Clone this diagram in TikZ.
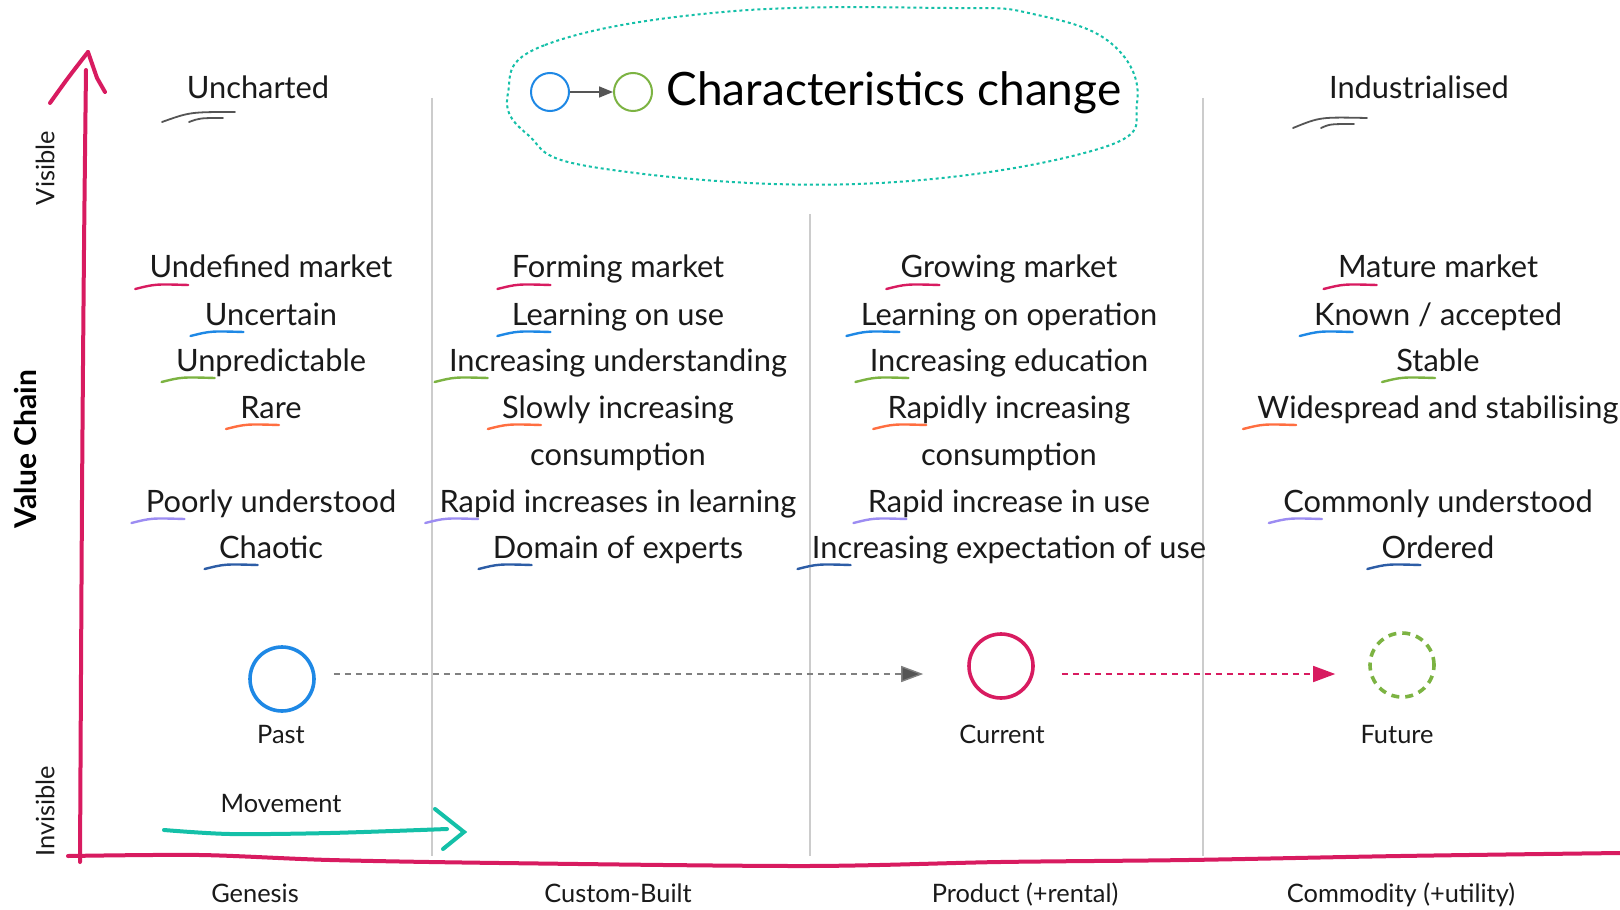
\documentclass[tikz,border=0pt]{standalone}
\usepackage{fontspec}
\setmainfont{Lato}
\usetikzlibrary{calc,arrows.meta}
\definecolor{wpink}{HTML}{D81B60}
\definecolor{wblue}{HTML}{1E88E5}
\definecolor{wgreen}{HTML}{7CB342}
\definecolor{worange}{HTML}{FF6E40}
\definecolor{wlav}{HTML}{9C8CF2}
\definecolor{wnavy}{HTML}{2D5DA6}
\definecolor{wteal}{HTML}{14C0A8}
\definecolor{wgray}{HTML}{555555}
\definecolor{wdiv}{HTML}{CCCCCC}
\definecolor{wtext}{HTML}{1A1A1A}
\tikzset{
  rowtxt/.style={anchor=base, inner sep=0pt, text=wtext, font=\fontsize{15.4}{18}\selectfont},
  headtxt/.style={anchor=base, inner sep=0pt, text=wtext, font=\fontsize{15.4}{18}\selectfont},
  smalltxt/.style={anchor=base, inner sep=0pt, text=wtext, font=\fontsize{12.7}{15}\selectfont},
  ulstroke/.style={line width=1.2pt, line cap=round},
  divider/.style={draw=wdiv, line width=0.7pt},
  axisline/.style={draw=wpink, line width=2pt, line cap=round, line join=round},
  squig/.style={draw=wgray, line width=0.9pt, line cap=round},
  stagecircle/.style={circle, minimum size=32pt, inner sep=0pt, line width=1.8pt},
  minicircle/.style={circle, minimum size=19pt, inner sep=0pt, line width=1pt},
}
\newcommand{\ritem}[5]{%
  \node[rowtxt] (#1) at (#2,#3) {#4};
  \draw[ulstroke, draw=#5] ($(#1.base west)+(-14,11)$) .. controls ($(#1.base west)+(6,6)$) .. ($(#1.base west)+(39,7)$);}
\newcommand{\rplain}[4]{\node[rowtxt] (#1) at (#2,#3) {#4};}
\begin{document}
\begin{tikzpicture}[x=0.5pt,y=-0.5pt]
\useasboundingbox (0,0) rectangle (1620,909);
\fill[white] (0,0) rectangle (1620,909);

% dividers
\draw[divider] (432,98) -- (432,856);
\draw[divider] (810,214) -- (810,856);
\draw[divider] (1203,98) -- (1203,856);

% axes
\draw[axisline] plot[smooth] coordinates {(80,862) (82,500) (84,250) (86,70)};
\draw[axisline] plot[smooth] coordinates {(50,103) (68,78) (88,52)};
\draw[axisline] (88,52) -- (97,78) -- (105,92);
\draw[axisline] plot[smooth] coordinates {(68,856) (200,855) (330,860) (500,863) (806,866) (1000,862) (1188,860) (1400,856) (1620,853)};

% axis labels
\node[smalltxt, anchor=center, rotate=90] (visible) at (45,168) {Visible};
\node[smalltxt, anchor=center, rotate=90] (invisible) at (45,811) {Invisible};
\node[anchor=center, rotate=90, inner sep=0pt, text=black, font=\fontsize{15}{18}\selectfont\bfseries] (vchain) at (25,449) {Value Chain};

% headers
\node[headtxt] (uncharted) at (258,99) {Uncharted};
\draw[squig] (162,122) .. controls (190,112) .. (235,112);
\draw[squig] (189,122) .. controls (200,118) .. (223,118);
\node[headtxt] (industrial) at (1419,99) {Industrialised};
\draw[squig] (1293,128) .. controls (1320,117) .. (1367,118);
\draw[squig] (1321,128) .. controls (1330,124) .. (1354,124);

% title bubble
\draw[wteal, line width=1pt, dash pattern=on 1.5pt off 1.5pt] plot[smooth cycle, tension=0.7] coordinates {(508,93) (545,45) (723,12) (950,8) (1033,14) (1112,44) (1137,103) (1095,150) (858,184) (599,168) (527,134)};
\node[minicircle, draw=wblue] (oldc) at (550,92) {};
\node[minicircle, draw=wgreen] (newc) at (633,92) {};
\draw[wgray, line width=0.8pt, -{Triangle[length=7pt,width=5.5pt]}] (oldc) -- (newc);
\node[anchor=base, inner sep=0pt, text=black, font=\fontsize{23}{27}\selectfont] (title) at (894,106) {Characteristics change};

% column 1
\ritem{a1}{271}{278}{Undefined market}{wpink}
\ritem{a2}{271}{325}{Uncertain}{wblue}
\ritem{a3}{271}{371}{Unpredictable}{wgreen}
\ritem{a4}{271}{418}{Rare}{worange}
\ritem{a6}{271}{512}{Poorly understood}{wlav}
\ritem{a7}{271}{558}{Chaotic}{wnavy}

% column 2
\ritem{b1}{618}{278}{Forming market}{wpink}
\ritem{b2}{618}{325}{Learning on use}{wblue}
\ritem{b3}{618}{371}{Increasing understanding}{wgreen}
\ritem{b4}{618}{418}{Slowly increasing}{worange}
\rplain{b5}{618}{465}{consumption}
\ritem{b6}{618}{512}{Rapid increases in learning}{wlav}
\ritem{b7}{618}{558}{Domain of experts}{wnavy}

% column 3
\ritem{c1}{1009}{278}{Growing market}{wpink}
\ritem{c2}{1009}{325}{Learning on operation}{wblue}
\ritem{c3}{1009}{371}{Increasing education}{wgreen}
\ritem{c4}{1009}{418}{Rapidly increasing}{worange}
\rplain{c5}{1009}{465}{consumption}
\ritem{c6}{1009}{512}{Rapid increase in use}{wlav}
\ritem{c7}{1009}{558}{Increasing expectation of use}{wnavy}

% column 4
\ritem{d1}{1438}{278}{Mature market}{wpink}
\ritem{d2}{1438}{325}{Known / accepted}{wblue}
\ritem{d3}{1438}{371}{Stable}{wgreen}
\ritem{d4}{1438}{418}{Widespread and stabilising}{worange}
\ritem{d6}{1438}{512}{Commonly understood}{wlav}
\ritem{d7}{1438}{558}{Ordered}{wnavy}

% stages
\node[stagecircle, draw=wblue] (past) at (282,679) {};
\node[stagecircle, draw=wpink] (current) at (1001,666) {};
\node[stagecircle, draw=wgreen, dash pattern=on 4pt off 3pt] (future) at (1402,665) {};
\node[smalltxt] (pastl) at (281,743) {Past};
\node[smalltxt] (currentl) at (1002,743) {Current};
\node[smalltxt] (futurel) at (1397,743) {Future};
\draw[draw=gray, line width=0.7pt, dash pattern=on 3pt off 2.5pt, -{Triangle[length=11pt,width=8pt,fill=wgray]}] ($(past.east)+(18,-5)$) -- ($(current.west)+(-44,8)$);
\draw[draw=wpink, line width=0.7pt, dash pattern=on 3pt off 2.5pt, -{Triangle[length=11pt,width=8pt]}] ($(current.east)+(27,8)$) -- ($(future.west)+(-33,9)$);

% movement
\node[smalltxt] (movel) at (281,812) {Movement};
\coordinate (mvs) at (164,830);
\coordinate (mve) at (447,829);
\draw[draw=wteal, line width=2pt, line cap=round] plot[smooth] coordinates {(mvs) (230,834) (330,833) (mve)};
\draw[draw=wteal, line width=2pt, line cap=round, line join=miter] (435,809) -- (464,832) -- (443,849);

% x axis labels
\node[smalltxt] (gen) at (255,902) {Genesis};
\node[smalltxt] (cust) at (618,902) {Custom-Built};
\node[smalltxt] (prod) at (1025,902) {Product (+rental)};
\node[smalltxt] (comm) at (1401,902) {Commodity (+utility)};
\end{tikzpicture}
\end{document}
